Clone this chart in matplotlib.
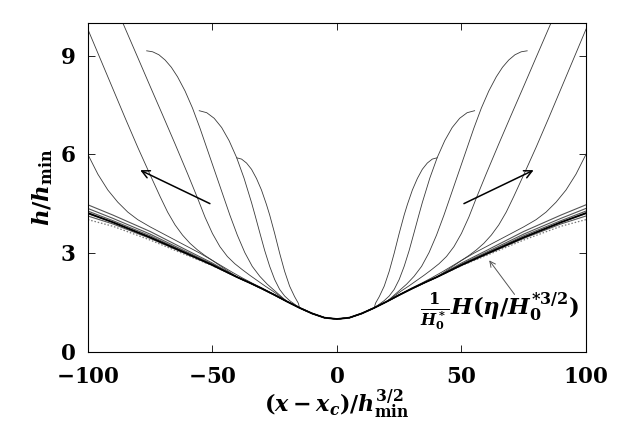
import numpy as np
import matplotlib

matplotlib.use("Agg")
import matplotlib.pyplot as plt
from matplotlib.ticker import FuncFormatter

plt.rcParams["mathtext.fontset"] = "custom"
plt.rcParams["mathtext.rm"] = "DejaVu Serif:bold"
plt.rcParams["mathtext.bf"] = "DejaVu Serif:bold"
plt.rcParams["mathtext.it"] = "DejaVu Serif:italic:bold"

# similarity profile (core), |eta| -> h
base_eta = [0, 5, 10, 15, 20, 25, 30, 35, 40, 50, 60, 75, 90, 100]
base_h = [1.0, 1.04, 1.17, 1.34, 1.53, 1.73, 1.92, 2.10, 2.27, 2.64, 2.98, 3.48, 3.94, 4.22]

# dotted reference H curve, outer part
ref_eta = [50, 60, 75, 90, 100]
ref_h = [2.62, 2.93, 3.40, 3.82, 4.02]

# late-time profiles that fan out at the edges
tail_eta = [50, 60, 75, 90, 100]
tails_h = [
    [2.70, 3.08, 3.66, 4.16, 4.47],
    [2.67, 3.03, 3.58, 4.06, 4.36],
    [2.65, 3.00, 3.53, 3.99, 4.28],
    [2.64, 2.98, 3.48, 3.94, 4.20],
    [2.63, 2.96, 3.45, 3.89, 4.13],
]

# earlier profiles, outer part (|eta| from outside inwards)
c7_eta = [40.3, 38.3, 36.3, 34.3, 32.3, 30.3, 28.3, 27, 25, 23, 21, 19, 17, 15.5]
c7_h = [5.9, 5.86, 5.74, 5.55, 5.27, 4.92, 4.48, 4.16, 3.6, 3.0, 2.45, 2.0, 1.68, 1.48]

c6_eta = [55.3, 52.3, 49.3, 46.3, 43.3, 40.3, 37.3, 34.3, 32.9, 31, 29, 27, 25, 23, 21, 19, 17]
c6_h = [7.33, 7.27, 7.10, 6.82, 6.42, 5.91, 5.28, 4.54, 4.16, 3.63, 3.08, 2.6, 2.2, 1.9, 1.7, 1.56, 1.45]

c5_eta = [76.4, 74, 71.5, 69, 66.5, 64, 61, 58, 55, 52, 49, 46, 43, 40, 37, 34, 31, 28, 25, 22]
c5_h = [9.15, 9.12, 9.03, 8.87, 8.65, 8.36, 7.93, 7.41, 6.8, 6.14, 5.48, 4.82, 4.16, 3.55, 3.02, 2.6, 2.3, 2.06, 1.86, 1.66]

c2_eta = [88, 86, 80, 75, 70, 65, 60, 56, 53, 50, 47, 44, 41, 38, 35, 32, 29, 26, 23]
c2_h = [10.35, 10.0, 8.95, 8.07, 7.2, 6.32, 5.42, 4.68, 4.1, 3.6, 3.2, 2.9, 2.68, 2.5, 2.33, 2.17, 2.01, 1.86, 1.7]

c1_eta = [102, 100, 95, 90, 85, 80, 75, 71, 68, 65, 62, 59, 56, 53, 50, 46, 42, 38, 34, 30]
c1_h = [10.15, 9.8, 8.9, 8.0, 7.1, 6.22, 5.38, 4.72, 4.25, 3.86, 3.55, 3.3, 3.1, 2.93, 2.78, 2.6, 2.42, 2.25, 2.09, 1.94]

c3_eta = [102, 100, 96, 92, 88, 84, 80, 75, 70, 65, 60, 55, 50, 45]
c3_h = [6.3, 6.0, 5.4, 4.92, 4.55, 4.25, 4.02, 3.8, 3.6, 3.4, 3.2, 3.0, 2.78, 2.52]

early_curves = [
    (c7_eta, c7_h), (c6_eta, c6_h), (c5_eta, c5_h),
    (c2_eta, c2_h), (c1_eta, c1_h), (c3_eta, c3_h),
]


def full_profile(outer_eta, outer_h):
    """Outer points joined to the core profile, mirrored to both sides."""
    inner = [(e, h) for e, h in zip(base_eta, base_h) if e < min(outer_eta)]
    pts = sorted(list(zip(outer_eta, outer_h)) + inner)
    eta = np.array([p[0] for p in pts])
    h = np.array([p[1] for p in pts])
    return np.concatenate([-eta[::-1], eta[1:]]), np.concatenate([h[::-1], h[1:]])


fig = plt.figure(figsize=(6.28, 4.23), dpi=100)
ax = fig.add_axes([0.140, 0.168, 0.793, 0.778])

for eta_o, h_o in early_curves:
    x, y = full_profile(eta_o, h_o)
    ax.plot(x, y, color="#3a3a3a", lw=0.6)

for th in tails_h:
    x, y = full_profile(tail_eta, th)
    ax.plot(x, y, color="#555555", lw=0.8)

x, y = full_profile(ref_eta, ref_h)
ax.plot(x, y, color="#777777", lw=0.9, ls=(0, (1.2, 1.5)))

x, y = full_profile(base_eta[-1:], base_h[-1:])
ax.plot(x, y, color="black", lw=1.3)

arrow = dict(arrowstyle="->", color="black", lw=1.1, mutation_scale=14)
ax.annotate("", xy=(-80, 5.56), xytext=(-50, 4.47), arrowprops=arrow)
ax.annotate("", xy=(80, 5.56), xytext=(50, 4.47), arrowprops=arrow)
ax.annotate("", xy=(60.5, 2.85), xytext=(72, 1.68),
            arrowprops=dict(arrowstyle="->", color="#555555", lw=0.7, mutation_scale=10))
ax.text(65.3, 1.22, r"$\frac{1}{H_0^*}H(\eta/H_0^{*3/2})$",
        fontsize=16.5, ha="center", va="center")

ax.set_xlim(-100, 100)
ax.set_ylim(0, 10)
ax.set_xticks([-100, -50, 0, 50, 100])
ax.set_yticks([0, 3, 6, 9])
fmt = FuncFormatter(lambda v, _: r"$%d$" % v)
ax.xaxis.set_major_formatter(fmt)
ax.yaxis.set_major_formatter(fmt)
ax.tick_params(direction="in", top=True, right=True, length=5, width=0.6,
               labelsize=15.5)
ax.tick_params(axis="x", pad=11)
ax.tick_params(axis="y", pad=9)
for s in ax.spines.values():
    s.set_linewidth(0.8)
ax.set_xlabel(r"$(x-x_c)/h_{\mathrm{min}}^{3/2}$", fontsize=16, labelpad=0)
ax.set_ylabel(r"$h/h_{\mathrm{min}}$", fontsize=16.5, labelpad=3)

fig.savefig("out.png", dpi=100)
